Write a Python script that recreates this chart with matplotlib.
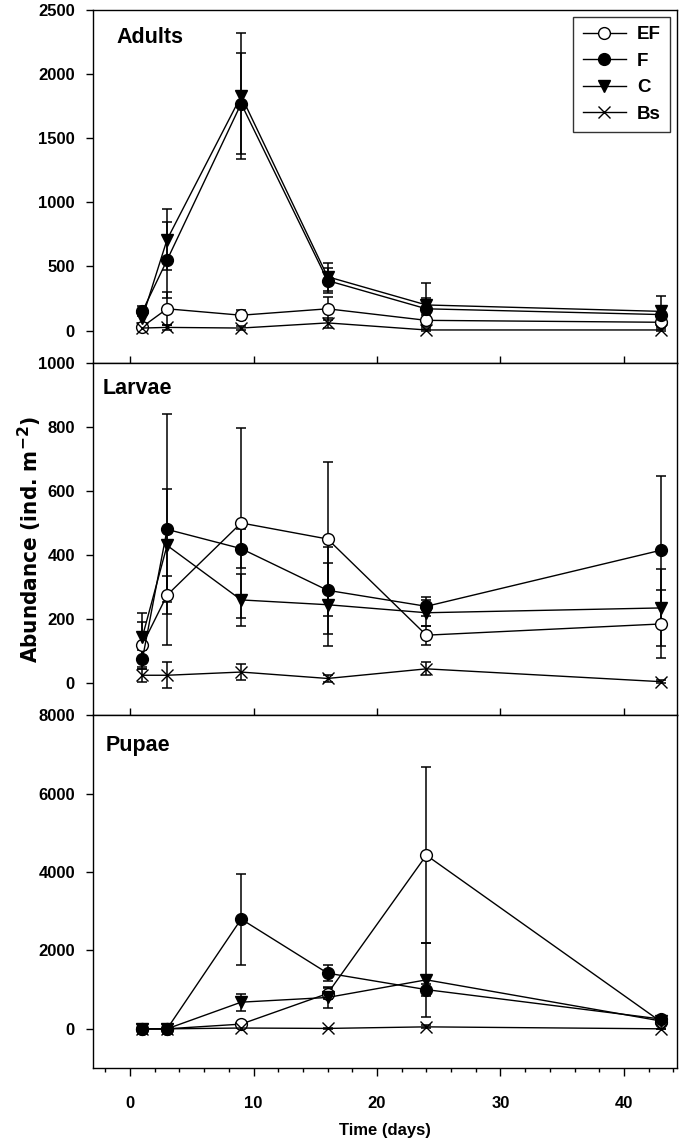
import numpy as np
import matplotlib.pyplot as plt
from matplotlib.ticker import MultipleLocator

plt.rcParams['font.family'] = ['Liberation Sans', 'DejaVu Sans']
plt.rcParams['font.weight'] = 'bold'
plt.rcParams['mathtext.fontset'] = 'custom'
plt.rcParams['mathtext.bf'] = 'DejaVu Sans:bold'
plt.rcParams['mathtext.default'] = 'bf'

days = [1, 3, 9, 16, 24, 43]
treatments = ['EF', 'F', 'C', 'Bs']

# adults
adults_ef = [30, 170, 120, 170, 80, 65]
adults_ef_err = [20, 130, 40, 90, 40, 30]
adults_f = [150, 550, 1770, 390, 170, 125]
adults_f_err = [40, 295, 395, 100, 85, 60]
adults_c = [100, 710, 1830, 420, 200, 150]
adults_c_err = [40, 240, 490, 110, 175, 120]
adults_bs = [20, 25, 20, 60, 5, 5]
adults_bs_err = [15, 20, 15, 40, 10, 5]

# larvae
larvae_ef = [120, 275, 500, 450, 150, 185]
larvae_ef_err = [70, 60, 295, 240, 30, 105]
larvae_f = [75, 480, 420, 290, 240, 415]
larvae_f_err = [30, 360, 60, 135, 30, 230]
larvae_c = [145, 430, 260, 245, 220, 235]
larvae_c_err = [75, 175, 80, 130, 40, 120]
larvae_bs = [25, 25, 35, 15, 45, 5]
larvae_bs_err = [20, 40, 25, 10, 20, 5]

# pupae
pupae_ef = [0, 0, 120, 900, 4430, 180]
pupae_ef_err = [0, 0, 60, 150, 2250, 80]
pupae_f = [0, 0, 2800, 1420, 1000, 250]
pupae_f_err = [0, 0, 1160, 200, 150, 80]
pupae_c = [0, 0, 680, 800, 1250, 200]
pupae_c_err = [0, 0, 220, 270, 950, 80]
pupae_bs = [0, 0, 20, 10, 50, 0]
pupae_bs_err = [0, 0, 10, 10, 40, 0]

panels = [
    ('Adults', [adults_ef, adults_f, adults_c, adults_bs],
     [adults_ef_err, adults_f_err, adults_c_err, adults_bs_err],
     (-250, 2500), 500, (0.04, 0.923)),
    ('Larvae', [larvae_ef, larvae_f, larvae_c, larvae_bs],
     [larvae_ef_err, larvae_f_err, larvae_c_err, larvae_bs_err],
     (-100, 1000), 200, (0.017, 0.926)),
    ('Pupae', [pupae_ef, pupae_f, pupae_c, pupae_bs],
     [pupae_ef_err, pupae_f_err, pupae_c_err, pupae_bs_err],
     (-1000, 8000), 2000, (0.022, 0.915)),
]

styles = {
    'EF': dict(marker='o', mfc='white', mec='black'),
    'F': dict(marker='o', mfc='black', mec='black'),
    'C': dict(marker='v', mfc='black', mec='black'),
    'Bs': dict(marker='x', mfc='black', mec='black'),
}

fig = plt.figure(figsize=(6.85, 11.44), dpi=100)
gs = fig.add_gridspec(3, 1, left=93/685, right=677/685,
                      top=1-10/1144, bottom=1-1068/1144, hspace=0)

for i, (name, vals, errs, ylim, step, lpos) in enumerate(panels):
    ax = fig.add_subplot(gs[i])
    handles = []
    for t, v, e in zip(treatments, vals, errs):
        ax.errorbar(days, v, yerr=e, fmt='none', ecolor='black',
                    elinewidth=1.1, capsize=3.5, capthick=1.1, zorder=2)
        ms = 9 if t == 'Bs' else 8.5
        ln, = ax.plot(days, v, color='black', lw=1.0, ms=ms, mew=1.0,
                      zorder=3, label=t, **styles[t])
        handles.append(ln)
    ax.set_xlim(-3, 44.3)
    ax.set_ylim(*ylim)
    ax.yaxis.set_major_locator(MultipleLocator(step))
    ax.tick_params(axis='y', direction='out', length=5, width=1,
                   labelsize=12, pad=8)
    for s in ax.spines.values():
        s.set_linewidth(1.0)
    ax.text(lpos[0], lpos[1], name, transform=ax.transAxes,
            fontsize=15.5, fontweight='bold', va='center', ha='left')
    if i < 2:
        ax.xaxis.set_major_locator(MultipleLocator(10))
        ax.tick_params(axis='x', direction='in', length=5, width=1,
                       labelbottom=False)
    else:
        ax.xaxis.set_major_locator(MultipleLocator(10))
        ax.xaxis.set_minor_locator(MultipleLocator(2))
        ax.tick_params(axis='x', which='major', direction='out', length=6,
                       width=1, labelsize=12, pad=14)
        ax.tick_params(axis='x', which='minor', direction='out', length=3,
                       width=1)
        ax.set_xlabel('Time (days)', fontsize=12, fontweight='bold',
                      labelpad=9)
    if i == 0:
        leg = ax.legend(handles=handles, loc='upper right', fontsize=13.5,
                        handlelength=2.3, frameon=True, fancybox=False,
                        borderaxespad=0.35, labelspacing=0.5,
                        handletextpad=0.6, borderpad=0.5)
        leg.get_frame().set_edgecolor('black')
        leg.get_frame().set_linewidth(1.0)
        for txt in leg.get_texts():
            txt.set_fontweight('bold')

fig.text(30/685, 1-539/1144, r'Abundance (ind. m$^{-2}$)', rotation=90,
         va='center', ha='center', fontsize=16, fontweight='bold',
         family='DejaVu Sans', fontstretch='condensed')

plt.savefig('out.png', dpi=100)
